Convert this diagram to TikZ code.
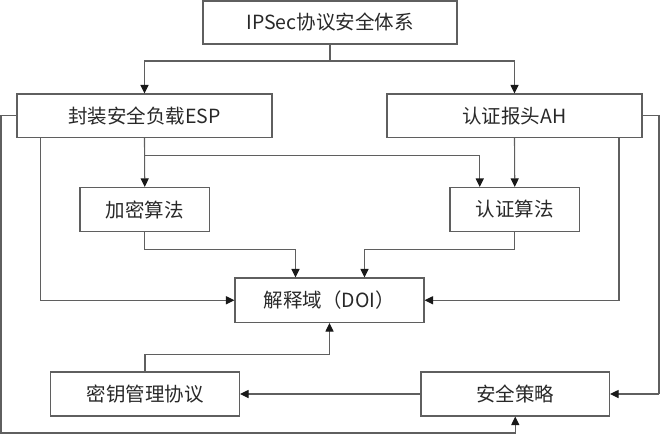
\documentclass[tikz,border=0pt]{standalone}
\usepackage{fontspec}
\setmainfont{Noto Sans CJK SC}
\usetikzlibrary{arrows.meta}
\definecolor{linec}{RGB}{95,95,95}
\definecolor{textc}{RGB}{40,40,40}
\definecolor{tipc}{RGB}{25,25,25}
\tikzset{
  box/.style={draw=linec,line width=1.1pt,rectangle,inner sep=0pt,text=textc,
    font=\fontsize{19.5pt}{22pt}\selectfont},
  arr/.style={draw=linec,line width=1.1pt,-{Triangle[length=8.5pt,width=8pt,color=tipc]}},
  ln/.style={draw=linec,line width=1.1pt}
}
\begin{document}
\begin{tikzpicture}[x=1pt,y=-1pt]
\useasboundingbox (0,0) rectangle (660,434);
\node[box,minimum width=254pt,minimum height=43pt] (top) at (330,22.5) {IPSec协议安全体系};
\node[box,minimum width=255pt,minimum height=43.5pt] (esp) at (144.5,115.75) {封装安全负载ESP};
\node[box,minimum width=255pt,minimum height=43.5pt] (ah) at (514.5,115.75) {认证报头AH};
\node[box,minimum width=129.5pt,minimum height=44pt] (jm) at (144.75,209.5) {加密算法};
\node[box,minimum width=129.5pt,minimum height=44pt] (rz) at (514.75,209.5) {认证算法};
\node[box,minimum width=189pt,minimum height=44.5pt] (doi) at (329.5,300.25) {解释域（DOI）};
\node[box,minimum width=189pt,minimum height=44pt] (key) at (145,394) {密钥管理协议};
\node[box,minimum width=188.5pt,minimum height=44pt] (pol) at (515.25,394) {安全策略};
\coordinate (j1) at (330,61);
\coordinate (j2) at (144.5,155.5);
\coordinate (bl) at (1,433);
\coordinate (br) at (659,394);
% top to ESP / AH
\draw[ln] (top.south) -- (j1);
\draw[arr] (j1) -| (esp.north);
\draw[arr] (j1) -| (ah.north);
% ESP to algorithms
\draw[arr] (esp.south) -- (jm.north);
\draw[arr] (j2) -| ([xshift=-35pt]rz.north);
\draw[arr] (ah.south) -- (rz.north);
% algorithms to DOI
\draw[arr] (jm.south) -- ++(0,17.5) -| ([xshift=-34pt]doi.north);
\draw[arr] (rz.south) -- ++(0,17.5) -| ([xshift=35pt]doi.north);
% ESP / AH to DOI
\draw[arr] ([xshift=-104pt]esp.south) |- (doi.west);
\draw[arr] ([xshift=104.5pt]ah.south) |- (doi.east);
% key management to DOI
\draw[arr] (key.north) -- ++(0,-17) -| (doi.south);
% policy to key management
\draw[arr] (pol.west) -- (key.east);
% outer loops
\draw[arr] (esp.west) -| (bl) -| (pol.south);
\draw[ln] (ah.east) -| (br);
\draw[arr] (br) -- (pol.east);
\end{tikzpicture}
\end{document}
